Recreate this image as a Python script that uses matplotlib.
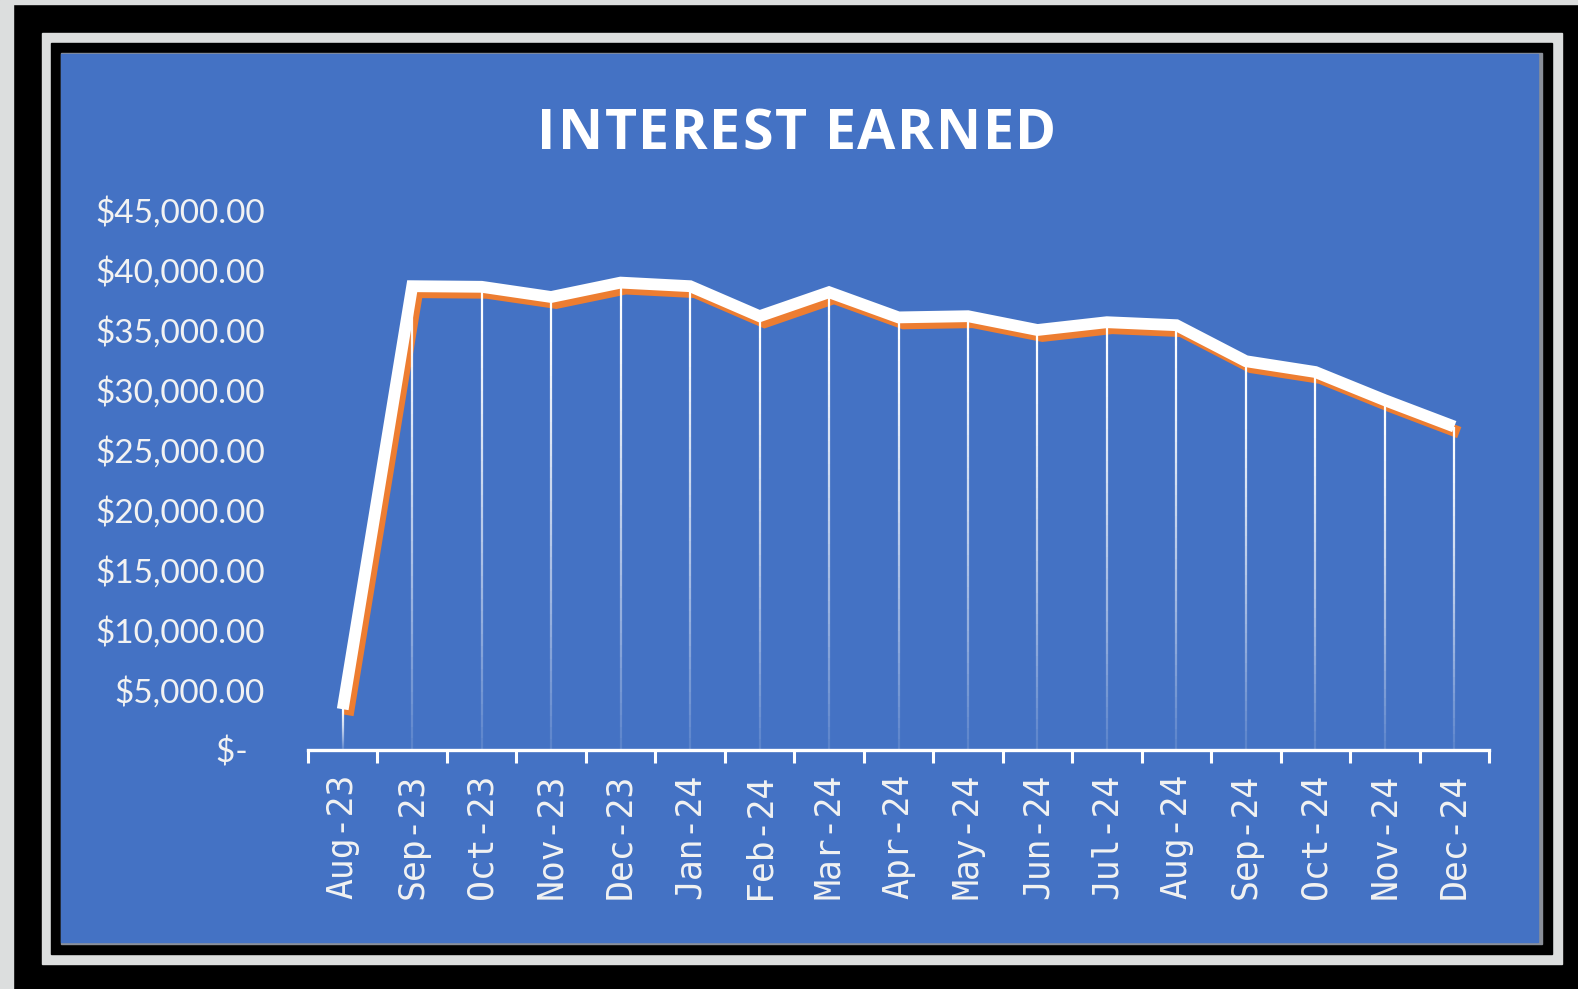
import matplotlib.pyplot as plt
import matplotlib.transforms as mtransforms
from matplotlib.patches import Rectangle
from matplotlib.font_manager import FontProperties
import numpy as np

months = ["Aug-23", "Sep-23", "Oct-23", "Nov-23", "Dec-23", "Jan-24", "Feb-24",
          "Mar-24", "Apr-24", "May-24", "Jun-24", "Jul-24", "Aug-24", "Sep-24",
          "Oct-24", "Nov-24", "Dec-24"]
interest = [3400, 38650, 38600, 37750, 38950, 38650, 36150,
            38150, 36050, 36150, 35000, 35650, 35400, 32400,
            31500, 29150, 26950]
yticks = [0, 5000, 10000, 15000, 20000, 25000, 30000, 35000, 40000, 45000]
ytick_labels = ["$-  ", "$5,000.00", "$10,000.00", "$15,000.00", "$20,000.00",
                "$25,000.00", "$30,000.00", "$35,000.00", "$40,000.00", "$45,000.00"]
title = "INTEREST EARNED"

blue = "#4472C4"
orange = "#ED7D31"
txt = "#F2F2F2"
W, H = 1578, 989

fig = plt.figure(figsize=(W / 100, H / 100), dpi=100)
fig.patch.set_facecolor("black")

# frame drawn in pixel coordinates
bg = fig.add_axes([0, 0, 1, 1], zorder=-5)
bg.set_xlim(0, W)
bg.set_ylim(H, 0)
bg.axis("off")
light = "#DCDEDE"
bg.add_patch(Rectangle((0, 0), 13, H, color=light))
bg.add_patch(Rectangle((0, 0), W, 4, color=light))
bg.add_patch(Rectangle((42, 33), 1562 - 42, 964 - 33, color=light))
bg.add_patch(Rectangle((51, 43), 1552 - 51, 954 - 43, color="black"))
bg.add_patch(Rectangle((61, 53), 1542 - 61, 944 - 53, color="#8A8F99"))
bg.add_patch(Rectangle((61, 54), 1538 - 61, 942 - 54, color=blue))

# plot area
ax = fig.add_axes([308 / W, 1 - 750 / H, (1489 - 308) / W, (750 - 210) / H])
ax.set_facecolor("none")
x = np.arange(len(months))

# orange shadow, offset down-right
shadow = ax.transData + mtransforms.ScaledTranslation(5 / 100, -6 / 100, fig.dpi_scale_trans)
ax.plot(x, interest, color=orange, lw=8.5, transform=shadow, zorder=1,
        solid_joinstyle="miter", solid_capstyle="butt")

# drop lines fading towards the axis
for xi, yi in zip(x, interest):
    n = 40
    ys = np.linspace(yi, 0, n + 1)
    for k in range(n):
        a = 1.0 - 0.9 * (k / n) ** 1.3
        ax.plot([xi, xi], [ys[k], ys[k + 1]], color="white", lw=1.6, alpha=a,
                solid_capstyle="butt", zorder=2)

ax.plot(x, interest, color="white", lw=8.5, zorder=3,
        solid_joinstyle="miter", solid_capstyle="butt")

ax.set_xlim(-0.5, len(months) - 0.5)
ax.set_ylim(0, 45000)

for s in ["top", "right", "left"]:
    ax.spines[s].set_visible(False)
ax.spines["bottom"].set_color("white")
ax.spines["bottom"].set_linewidth(2.4)

ax.set_yticks(yticks)
ax.set_yticklabels(ytick_labels, fontsize=24, color=txt, family="Lato")
ax.tick_params(axis="y", length=0, pad=31)

ax.set_xticks(x)
ax.set_xticklabels(months, rotation=90, fontsize=25, color=txt,
                   family="DejaVu Sans Mono")
ax.tick_params(axis="x", which="major", length=0, pad=17)
ax.set_xticks(np.arange(-0.5, len(months)), minor=True)
ax.tick_params(axis="x", which="minor", length=9.5, width=2.2, color="white",
               direction="out")

# title with letter spacing, laid out char by char
fp = FontProperties(family="Open Sans", weight="bold", size=40)
r = fig.canvas.get_renderer()
def tw(s):
    if not s:
        return 0.0
    return r.get_text_width_height_descent(s, fp, ismath=False)[0]
target_w = 519
sp = (target_w - tw(title)) / (len(title) - 1)
x0 = 797 - target_w / 2
for i, ch in enumerate(title):
    fig.text((x0 + tw(title[:i]) + i * sp) / W, 1 - 149 / H, ch, color="white",
             fontproperties=fp, ha="left", va="baseline")

fig.savefig("out.png", dpi=100, facecolor=fig.get_facecolor())
